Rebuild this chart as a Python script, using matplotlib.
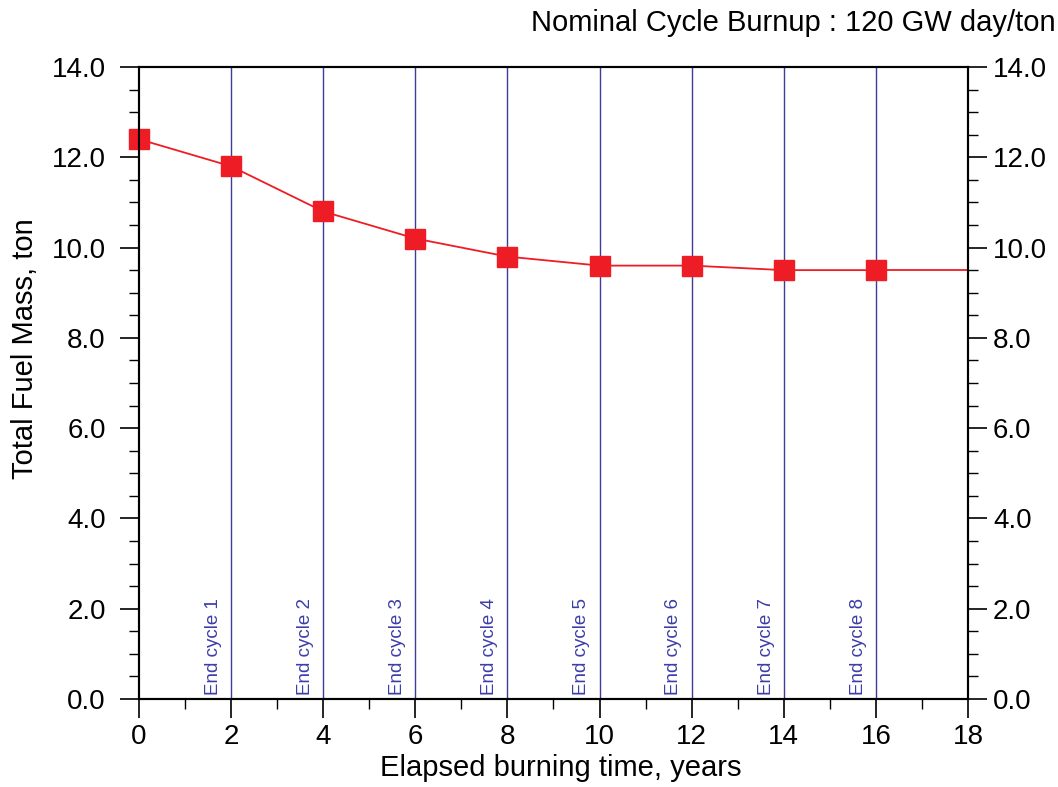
import matplotlib.pyplot as plt
from matplotlib.ticker import MultipleLocator

plt.rcParams['font.family'] = ['Liberation Sans', 'DejaVu Sans']

years = [0, 2, 4, 6, 8, 10, 12, 14, 16]
fuel_mass = [12.4, 11.8, 10.8, 10.2, 9.8, 9.6, 9.6, 9.5, 9.5]
tail_years = [16, 18]
tail_mass = [9.5, 9.5]
cycle_ends = [2, 4, 6, 8, 10, 12, 14, 16]
cycle_labels = ["End cycle %d" % (i + 1) for i in range(len(cycle_ends))]
yticks = [0, 2, 4, 6, 8, 10, 12, 14]
ytick_labels = ["%.1f" % v for v in yticks]

fig = plt.figure(figsize=(10.58, 7.87), dpi=100)
ax = fig.add_axes([0.1314, 0.1118, 0.7835, 0.8031])

for x, lab in zip(cycle_ends, cycle_labels):
    ax.axvline(x, color='#3d3d96', lw=1.0, zorder=1)
    ax.text(x - 0.2, 0.09, lab, rotation=90, ha='right', va='bottom',
            color='#3d3da8', fontsize=13.5)

red = '#ee1c24'
ax.plot(tail_years, tail_mass, color=red, lw=1.3, zorder=2)
ax.plot(years, fuel_mass, color=red, lw=1.3, marker='s', markersize=14,
        markeredgecolor=red, zorder=3, clip_on=False)

ax.set_xlim(0, 18)
ax.set_ylim(0, 14)
ax.set_xticks(range(0, 19, 2))
ax.xaxis.set_minor_locator(MultipleLocator(1))
ax.set_yticks(yticks)
ax.set_yticklabels(ytick_labels)
ax.yaxis.set_minor_locator(MultipleLocator(0.5))

ax.tick_params(axis='both', which='major', direction='out', length=14,
               width=1.2, labelsize=20)
ax.tick_params(axis='both', which='minor', direction='out', length=7, width=1.0)
ax.tick_params(axis='x', which='major', pad=4)
ax.tick_params(axis='y', which='major', pad=10)
ax.tick_params(axis='x', which='both', top=False)

# right-hand scale mirrors the left one
axr = ax.twinx()
axr.set_ylim(ax.get_ylim())
axr.set_yticks(yticks)
axr.set_yticklabels(ytick_labels)
axr.yaxis.set_minor_locator(MultipleLocator(0.5))
axr.tick_params(axis='y', which='major', direction='out', length=14,
                width=1.2, labelsize=20, pad=4)
axr.tick_params(axis='y', which='minor', direction='out', length=7, width=1.0)

for a in (ax, axr):
    for s in a.spines.values():
        s.set_linewidth(1.5)

ax.set_xlabel("Elapsed burning time, years", fontsize=21, va='center')
ax.xaxis.set_label_coords(0.509, -0.109)
ax.set_ylabel("Total Fuel Mass, ton", fontsize=21, va='center')
ax.yaxis.set_label_coords(-0.1375, 0.554)
fig.text(0.9975, 0.988, "Nominal Cycle Burnup : 120 GW day/ton", ha='right',
         va='top', fontsize=21)

fig.savefig("out.png", dpi=100)
